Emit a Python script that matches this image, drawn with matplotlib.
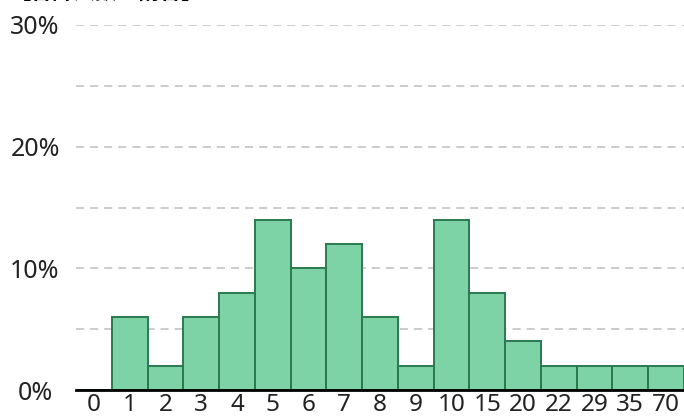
import matplotlib
matplotlib.use("Agg")
import matplotlib.pyplot as plt

plt.rcParams['font.family'] = ['Noto Sans', 'Noto Sans CJK JP', 'DejaVu Sans']

categories = ["0", "1", "2", "3", "4", "5", "6", "7", "8", "9", "10", "15", "20", "22", "29", "35", "70"]
percent = [0, 6, 2, 6, 8, 14, 10, 12, 6, 2, 14, 8, 4, 2, 2, 2, 2]
ytick_vals = [0, 10, 20, 30]
ytick_labels = ["0%", "10%", "20%", "30%"]
title = "【合計人数と割合】"

W, H = 684, 417
fig = plt.figure(figsize=(W / 100, H / 100), dpi=100)
ax = fig.add_axes([76 / W, (H - 390) / H, (684 - 76) / W, (390 - 25) / H])

x = list(range(len(categories)))
ax.bar(x, percent, width=1.0, color="#7dd3a5", edgecolor="#2b7a4f", linewidth=1.4, zorder=3)

ax.set_xlim(-0.5, len(categories) - 0.5)
ax.set_ylim(0, 30)

for g in [5, 10, 15, 20, 25, 30]:
    ax.axhline(g, color="#c8c8c8", linestyle=(0, (4.5, 3.3)), linewidth=1.3, zorder=1)

for s in ["top", "right", "left"]:
    ax.spines[s].set_visible(False)
ax.spines["bottom"].set_color("black")
ax.spines["bottom"].set_linewidth(2)
ax.spines["bottom"].set_zorder(4)

ax.set_xticks(x)
ax.set_xticklabels(categories, fontsize=17.5)
ax.tick_params(axis="x", length=0, pad=2.5)
ax.set_yticks(ytick_vals)
ax.set_yticklabels(ytick_labels, fontsize=18, ha="center")
ax.tick_params(axis="y", length=0, pad=29.5)
for lbl in list(ax.get_yticklabels()) + list(ax.get_xticklabels()):
    lbl.set_color("#222222")

fig.text(10 / W, 1 + 8 / H, title, fontsize=15.5, fontweight="bold", va="center", ha="left",
         family=['Noto Sans CJK JP', 'DejaVu Sans'])

fig.savefig("out.png", dpi=100)
